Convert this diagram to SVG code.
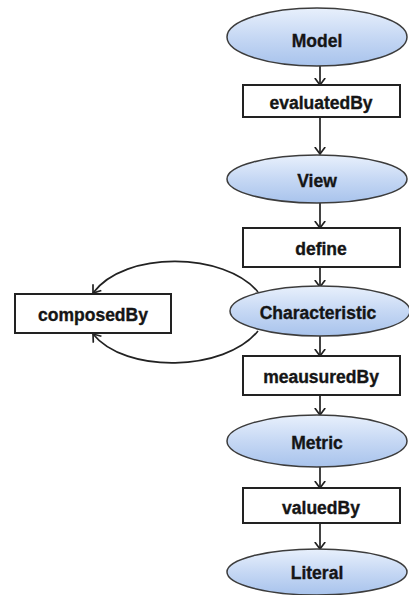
<svg xmlns="http://www.w3.org/2000/svg" width="409" height="595" viewBox="0 0 409 595">
<defs>
<linearGradient id="blue" x1="0" y1="0" x2="0" y2="1">
<stop offset="0" stop-color="#e8f0fc"/>
<stop offset="0.5" stop-color="#c6d8f4"/>
<stop offset="1" stop-color="#a8c3ec"/>
</linearGradient>
<marker id="arr" viewBox="0 0 8 12" refX="7.5" refY="6" markerWidth="8" markerHeight="12" markerUnits="userSpaceOnUse" orient="auto">
<path d="M0.5,0.8 L7.5,6 L0.5,11.2" fill="none" stroke="#222" stroke-width="1.7"/>
</marker>
</defs>
<style>
.ell{fill:url(#blue);stroke:#3c3c3c;stroke-width:1.5}
.box{fill:#fff;stroke:#222;stroke-width:2}
.lbl{font-family:"Liberation Sans",Arial,sans-serif;font-weight:bold;font-size:17.5px;fill:#151515;stroke:#151515;stroke-width:0.35;text-anchor:middle;dominant-baseline:central}
.con{fill:none;stroke:#222;stroke-width:1.7;marker-end:url(#arr)}
</style>
<g id="connectors">
<line class="con" x1="320" y1="66" x2="320" y2="85"/>
<line class="con" x1="320" y1="117" x2="320" y2="154"/>
<line class="con" x1="320" y1="203" x2="320" y2="228"/>
<line class="con" x1="320" y1="267" x2="320" y2="287"/>
<line class="con" x1="320" y1="336" x2="320" y2="356"/>
<line class="con" x1="320" y1="395" x2="320" y2="415"/>
<line class="con" x1="320" y1="467" x2="320" y2="488"/>
<line class="con" x1="320" y1="523" x2="320" y2="549"/>
<path class="con" d="M258,292 C225,252 125,250 93,293"/>
<path class="con" d="M258,331 C225,372 125,374 93,334"/>
</g>
<g id="model"><ellipse class="ell" cx="317" cy="37" rx="90" ry="29"/><text class="lbl" x="317" y="41">Model</text></g>
<g id="evaluatedBy"><rect class="box" x="243" y="85" width="157" height="32"/><text class="lbl" x="321" y="103">evaluatedBy</text></g>
<g id="view"><ellipse class="ell" cx="317" cy="179" rx="90" ry="24"/><text class="lbl" x="317" y="181">View</text></g>
<g id="define"><rect class="box" x="243" y="228" width="157" height="39"/><text class="lbl" x="321" y="249">define</text></g>
<g id="characteristic"><ellipse class="ell" cx="320" cy="311" rx="90" ry="25"/><text class="lbl" x="318" y="313">Characteristic</text></g>
<g id="composedBy"><rect class="box" x="15" y="294" width="156" height="39"/><text class="lbl" x="93" y="315">composedBy</text></g>
<g id="meausuredBy"><rect class="box" x="243" y="356" width="157" height="39"/><text class="lbl" x="321" y="377">meausuredBy</text></g>
<g id="metric"><ellipse class="ell" cx="317" cy="441" rx="90" ry="26"/><text class="lbl" x="317" y="443">Metric</text></g>
<g id="valuedBy"><rect class="box" x="243" y="488" width="157" height="35"/><text class="lbl" x="321" y="508">valuedBy</text></g>
<g id="literal"><ellipse class="ell" cx="317" cy="572" rx="90" ry="23"/><text class="lbl" x="317" y="573">Literal</text></g>
</svg>
